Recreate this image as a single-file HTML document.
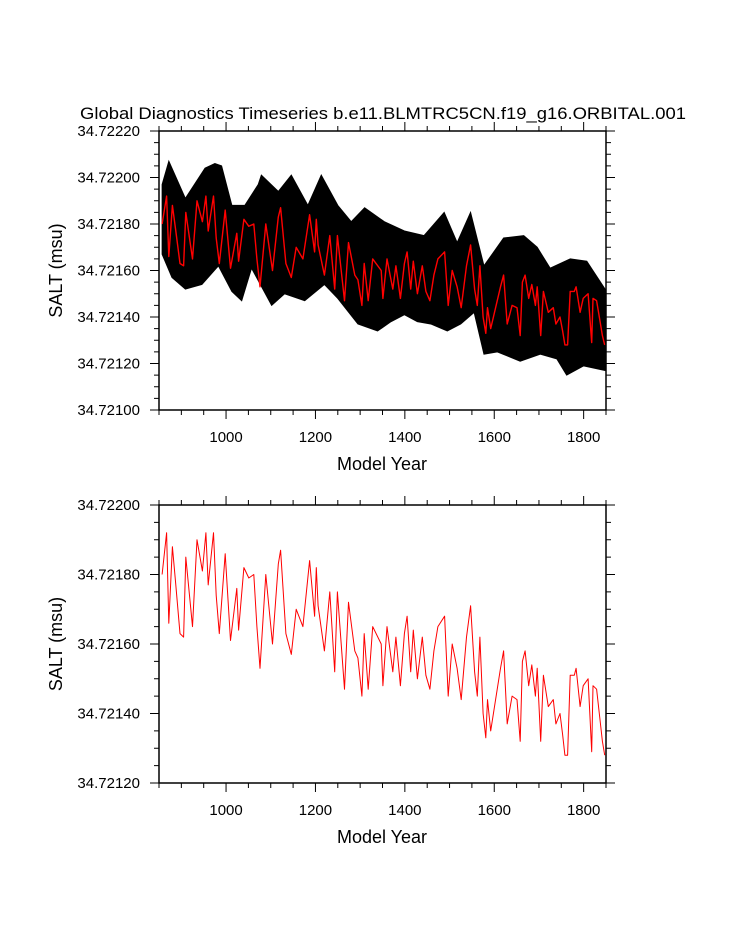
<!DOCTYPE html>
<html><head><meta charset="utf-8"><style>
html,body{margin:0;padding:0;background:#fff;}
svg{display:block;font-family:"Liberation Sans",sans-serif;}
</style></head><body>
<svg id="chart" width="733" height="945" viewBox="0 0 733 945" xmlns="http://www.w3.org/2000/svg">
<text x="383" y="119" font-size="17" text-anchor="middle" textLength="606" lengthAdjust="spacingAndGlyphs">Global Diagnostics Timeseries b.e11.BLMTRC5CN.f19_g16.ORBITAL.001</text>
<g id="p1"></g>
<g id="p2"></g>
</svg>
<script>
const years = [857,867,872,880,887,897,905,910,925,935,947,955,960,972,978,985,998,1010,1024,1028,1040,1051,1062,1069,1076,1089,1104,1117,1122,1134,1146,1157,1172,1187,1198,1202,1206,1220,1232,1243,1249,1265,1274,1288,1295,1304,1309,1318,1328,1347,1351,1360,1373,1380,1390,1399,1405,1413,1419,1428,1439,1447,1456,1465,1474,1489,1497,1506,1517,1526,1538,1547,1556,1562,1568,1575,1581,1585,1592,1603,1614,1621,1629,1640,1651,1658,1663,1669,1677,1684,1692,1696,1704,1710,1721,1732,1738,1747,1753,1758,1764,1770,1779,1783,1792,1799,1810,1818,1821,1829,1836,1842,1847];
const salt = [34.72180,34.72192,34.72166,34.72188,34.72178,34.72163,34.72162,34.72185,34.72165,34.72190,34.72181,34.72192,34.72177,34.72192,34.72174,34.72163,34.72186,34.72161,34.72176,34.72164,34.72182,34.72179,34.72180,34.72165,34.72153,34.72180,34.72160,34.72183,34.72187,34.72163,34.72157,34.72170,34.72165,34.72184,34.72168,34.72182,34.72171,34.72158,34.72175,34.72152,34.72175,34.72147,34.72172,34.72158,34.72156,34.72145,34.72163,34.72147,34.72165,34.72160,34.72148,34.72165,34.72152,34.72162,34.72148,34.72163,34.72168,34.72152,34.72164,34.72150,34.72162,34.72151,34.72147,34.72158,34.72165,34.72168,34.72145,34.72160,34.72153,34.72144,34.72162,34.72171,34.72152,34.72145,34.72162,34.72140,34.72133,34.72144,34.72135,34.72144,34.72153,34.72158,34.72137,34.72145,34.72144,34.72132,34.72155,34.72158,34.72148,34.72154,34.72145,34.72153,34.72132,34.72151,34.72142,34.72144,34.72137,34.72140,34.72134,34.72128,34.72128,34.72151,34.72151,34.72153,34.72142,34.72148,34.72150,34.72129,34.72148,34.72147,34.72139,34.72132,34.72128];
const maxYears = [857,872,909,953,975,990,1013,1042,1072,1079,1117,1146,1183,1213,1250,1280,1310,1354,1399,1443,1488,1517,1547,1577,1621,1666,1696,1725,1770,1807,1848];
const blackMax = [34.72197,34.72207,34.72191,34.72204,34.72206,34.72205,34.72188,34.72188,34.72197,34.72201,34.72194,34.72201,34.72188,34.72201,34.72188,34.72181,34.72187,34.72181,34.72177,34.72175,34.72185,34.72172,34.72185,34.72162,34.72174,34.72175,34.72170,34.72161,34.72165,34.72164,34.72152];
const minYears = [857,879,909,946,983,1013,1035,1057,1102,1131,1176,1220,1250,1295,1339,1369,1399,1428,1458,1495,1525,1555,1577,1607,1658,1703,1740,1762,1800,1848];
const blackMin = [34.72167,34.72157,34.72152,34.72154,34.72162,34.72151,34.72147,34.72161,34.72145,34.72150,34.72147,34.72154,34.72148,34.72137,34.72134,34.72138,34.72141,34.72138,34.72137,34.72134,34.72137,34.72142,34.72124,34.72125,34.72121,34.72124,34.72122,34.72115,34.72119,34.72117];
const xTicks = [1000,1200,1400,1600,1800];
const yTicksTop = [34.7210,34.7212,34.7214,34.7216,34.7218,34.7220,34.7222];
const yTicksBot = [34.7212,34.7214,34.7216,34.7218,34.7220];

const NS='http://www.w3.org/2000/svg';
function mk(parent,tag,attrs){const e=document.createElementNS(NS,tag);for(const k in attrs)e.setAttribute(k,attrs[k]);parent.appendChild(e);return e;}

function panel(g,top,bottom,ymin,ymax,yticks,showBlack){
  const L=159,R=606;
  const xs=v=>L+(v-850)/1000*(R-L);
  const ys=v=>bottom-(v-ymin)/(ymax-ymin)*(bottom-top);
  if(showBlack){
    let pts=[];
    for(let i=0;i<maxYears.length;i++)pts.push(xs(maxYears[i])+','+ys(blackMax[i]));
    for(let i=minYears.length-1;i>=0;i--)pts.push(xs(minYears[i])+','+ys(blackMin[i]));
    const b=mk(g,'polygon',{points:pts.join(' '),fill:'#000',stroke:'#000','stroke-width':1,'stroke-linejoin':'miter'});
    
    
  }
  let d='';
  for(let i=0;i<years.length;i++)d+=(i?'L':'M')+xs(years[i]).toFixed(1)+','+ys(salt[i]).toFixed(1);
  const ln=mk(g,'path',{d:d,fill:'none',stroke:'#f00','stroke-width':showBlack?1.4:1,'stroke-linejoin':'round'});
  
  
  const fr=mk(g,'rect',{x:L,y:top,width:R-L,height:bottom-top,fill:'none',stroke:'#000','stroke-width':1.5});
  
  
  for(let yv=850;yv<=1850;yv+=50){
    const maj=xTicks.includes(yv);const len=maj?9:5;const x=xs(yv);
    const t1=mk(g,'line',{x1:x,x2:x,y1:bottom,y2:bottom+len,stroke:'#000','stroke-width':1});
    
    
    const t2=mk(g,'line',{x1:x,x2:x,y1:top,y2:top-len,stroke:'#000','stroke-width':1});
    
    
  }
  for(const yv of xTicks){
    const t=mk(g,'text',{x:xs(yv),y:bottom+32,'font-size':15,'text-anchor':'middle'});t.textContent=yv;
    
    
  }
  const step=0.00005;
  for(let k=0;ymin+k*step<=ymax+1e-9;k++){
    const v=ymin+k*step;const maj=(k%4===0);const len=maj?9:5;const y=ys(v);
    const t1=mk(g,'line',{x1:L,x2:L-len,y1:y,y2:y,stroke:'#000','stroke-width':1});
    
    
    const t2=mk(g,'line',{x1:R,x2:R+len,y1:y,y2:y,stroke:'#000','stroke-width':1});
    
    
  }
  for(const v of yticks){
    const t=mk(g,'text',{x:140,y:ys(v)+5,'font-size':15,'text-anchor':'end'});t.textContent=v.toFixed(5);
    
    
  }
  const xt=mk(g,'text',{x:382,y:bottom+60,'font-size':18,'text-anchor':'middle'});xt.textContent='Model Year';
  
  
  const cy=(top+bottom)/2;
  const yt=mk(g,'text',{x:0,y:0,'font-size':18,'text-anchor':'middle',transform:'translate(62,'+cy+') rotate(-90)'});yt.textContent='SALT (msu)';
  
  
}
panel(document.getElementById('p1'),131,410,34.7210,34.7222,yTicksTop,true);
panel(document.getElementById('p2'),505,783,34.7212,34.7220,yTicksBot,false);
</script>
</body></html>
